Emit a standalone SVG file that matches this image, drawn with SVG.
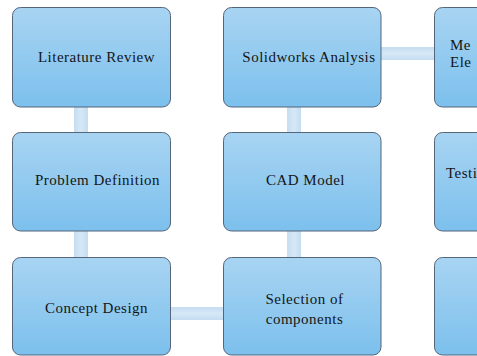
<svg xmlns="http://www.w3.org/2000/svg" width="477" height="356" viewBox="0 0 477 356">
  <defs>
    <linearGradient id="boxGrad" x1="0" y1="0" x2="0" y2="1">
      <stop offset="0" stop-color="#a8d4f2"/>
      <stop offset="1" stop-color="#7cc0ed"/>
    </linearGradient>
    <linearGradient id="linkV" x1="0" y1="0" x2="1" y2="0">
      <stop offset="0" stop-color="#c4ddf1"/>
      <stop offset="0.5" stop-color="#d6e8f6"/>
      <stop offset="1" stop-color="#c4ddf1"/>
    </linearGradient>
    <linearGradient id="linkH" x1="0" y1="0" x2="0" y2="1">
      <stop offset="0" stop-color="#c4ddf1"/>
      <stop offset="0.5" stop-color="#d6e8f6"/>
      <stop offset="1" stop-color="#c4ddf1"/>
    </linearGradient>
  </defs>
  <style>
    .box { fill: url(#boxGrad); stroke: #55657a; stroke-width: 1; }
    .lbl { font-family: "Liberation Serif", "DejaVu Serif", serif; font-size: 15px; letter-spacing: 0.5px; fill: #151515; text-anchor: middle; }
    .lbl-l { font-family: "Liberation Serif", "DejaVu Serif", serif; font-size: 15px; letter-spacing: 0.5px; fill: #151515; }
  </style>
  <rect width="477" height="356" fill="#ffffff"/>
  <g id="connectors">
    <rect x="74" y="107" width="14" height="25" fill="url(#linkV)"/>
    <rect x="74" y="231" width="14" height="26" fill="url(#linkV)"/>
    <rect x="287" y="107" width="14" height="25" fill="url(#linkV)"/>
    <rect x="287" y="231" width="14" height="26" fill="url(#linkV)"/>
    <rect x="381" y="47" width="54" height="13" fill="url(#linkH)"/>
    <rect x="170" y="307" width="54" height="13" fill="url(#linkH)"/>
  </g>
  <g id="literature-review">
    <rect class="box" x="12.5" y="7.5" width="158" height="99.5" rx="8"/>
    <text class="lbl" x="96.5" y="62">Literature Review</text>
  </g>
  <g id="problem-definition">
    <rect class="box" x="12.5" y="132.5" width="158" height="98.5" rx="8"/>
    <text class="lbl" x="97.5" y="185">Problem Definition</text>
  </g>
  <g id="concept-design">
    <rect class="box" x="12.5" y="257.5" width="158" height="97.5" rx="8"/>
    <text class="lbl" x="96.5" y="313">Concept Design</text>
  </g>
  <g id="solidworks-analysis">
    <rect class="box" x="223.5" y="7.5" width="157.5" height="99.5" rx="8"/>
    <text class="lbl" x="309" y="62">Solidworks Analysis</text>
  </g>
  <g id="cad-model">
    <rect class="box" x="223.5" y="132.5" width="157.5" height="98.5" rx="8"/>
    <text class="lbl" x="305.5" y="185">CAD Model</text>
  </g>
  <g id="selection-of-components">
    <rect class="box" x="223.5" y="257.5" width="157.5" height="97.5" rx="8"/>
    <text class="lbl" x="304.5" y="304">Selection of</text>
    <text class="lbl" x="304.5" y="324">components</text>
  </g>
  <g id="mechanical-electrical">
    <rect class="box" x="434.5" y="7.5" width="70" height="99.5" rx="8"/>
    <text class="lbl-l" x="450" y="50">Me</text>
    <text class="lbl-l" x="450" y="67">Ele</text>
  </g>
  <g id="testing">
    <rect class="box" x="434.5" y="132.5" width="70" height="98.5" rx="8"/>
    <text class="lbl-l" x="446" y="178">Testi</text>
  </g>
  <g id="bottom-right">
    <rect class="box" x="434.5" y="257.5" width="70" height="97.5" rx="8"/>
  </g>
</svg>
